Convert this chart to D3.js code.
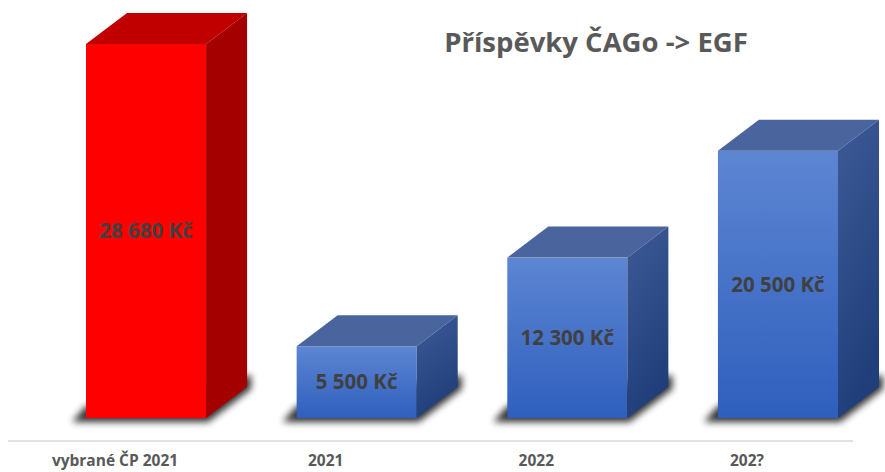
<!DOCTYPE html>
<html>
<head>
<meta charset="utf-8">
<script src="https://cdn.jsdelivr.net/npm/d3@7"></script>
<style>
  body { margin: 0; background: #fff; }
  svg { display: block; font-family: "Open Sans", "Noto Sans", sans-serif; }
</style>
</head>
<body>
<div id="chart"></div>
<script>
/* CONSTANTS AND GLOBALS */
const width = 885,
  height = 472,
  depth = { dx: 41, dy: 31 };

// data
const categories = ["vybrané ČP 2021", "2021", "2022", "202?"];
const values = [28680, 5500, 12300, 20500];
const valueLabels = ["28 680 Kč", "5 500 Kč", "12 300 Kč", "20 500 Kč"];
const title = "Příspěvky ČAGo -> EGF";

const data = categories.map((c, i) => ({ cat: c, value: values[i], label: valueLabels[i], red: i === 0 }));

// SCALES
const xScale = d3.scaleBand()
  .domain(categories)
  .range([86, 838])
  .paddingInner(0.43)
  .paddingOuter(0);

const yScale = d3.scaleLinear()
  .domain([0, 28680])
  .range([418, 44]);

// SVG
const svg = d3.select("#chart")
  .append("svg")
  .attr("width", width)
  .attr("height", height);

const defs = svg.append("defs");

defs.append("filter")
  .attr("id", "blur")
  .attr("x", "-20%").attr("y", "-50%")
  .attr("width", "140%").attr("height", "200%")
  .append("feGaussianBlur")
  .attr("stdDeviation", 3.5);

const frontGrad = defs.append("linearGradient")
  .attr("id", "blueFront")
  .attr("x1", 0).attr("y1", 0).attr("x2", 0).attr("y2", 1);
frontGrad.append("stop").attr("offset", "0%").attr("stop-color", "#5d86d2");
frontGrad.append("stop").attr("offset", "100%").attr("stop-color", "#2f5fbd");

const sideGrad = defs.append("linearGradient")
  .attr("id", "blueSide")
  .attr("x1", 0).attr("y1", 0).attr("x2", 0.3).attr("y2", 1);
sideGrad.append("stop").attr("offset", "0%").attr("stop-color", "#3e5b97");
sideGrad.append("stop").attr("offset", "100%").attr("stop-color", "#1f3e7a");

// AXIS LINE
svg.append("line")
  .attr("x1", 8).attr("x2", 853)
  .attr("y1", 441).attr("y2", 441)
  .attr("stroke", "#d9d9d9")
  .attr("stroke-width", 1.5);

// category labels
svg.selectAll("text.cat")
  .data(data)
  .join("text")
  .attr("class", "cat")
  .attr("x", d => xScale(d.cat) + xScale.bandwidth() / 2 - 31)
  .attr("y", 466)
  .attr("text-anchor", "middle")
  .attr("font-size", 15.5)
  .attr("font-weight", "bold")
  .attr("fill", "#595959")
  .text(d => d.cat);

// BARS
const base = yScale(0);
const w = xScale.bandwidth();

const bars = svg.selectAll("g.bar")
  .data(data)
  .join("g")
  .attr("class", "bar");

// shadow
bars.append("path")
  .attr("d", d => {
    const x = xScale(d.cat);
    return `M${x - 14},${base + 4} L${x + w + 2},${base + 4} L${x + w + depth.dx + 4},${base - depth.dy + 2}
      L${x + w + depth.dx + 4},${base - depth.dy - 12} L${x},${base - 12} Z`;
  })
  .attr("fill", "#000")
  .attr("opacity", 0.8)
  .attr("filter", "url(#blur)");

// front face
bars.append("rect")
  .attr("x", d => xScale(d.cat))
  .attr("y", d => yScale(d.value))
  .attr("width", w)
  .attr("height", d => base - yScale(d.value))
  .attr("fill", d => d.red ? "#ff0000" : "url(#blueFront)");

// top face
bars.append("path")
  .attr("d", d => {
    const x = xScale(d.cat), y = yScale(d.value);
    return `M${x},${y} L${x + depth.dx},${y - depth.dy} L${x + w + depth.dx},${y - depth.dy} L${x + w},${y} Z`;
  })
  .attr("fill", d => d.red ? "#c00000" : "#4a659e");

// side face
bars.append("path")
  .attr("d", d => {
    const x = xScale(d.cat) + w, y = yScale(d.value);
    return `M${x},${y} L${x + depth.dx},${y - depth.dy} L${x + depth.dx},${base - depth.dy} L${x},${base} Z`;
  })
  .attr("fill", d => d.red ? "#a50000" : "url(#blueSide)");

// value labels
bars.append("text")
  .attr("x", d => xScale(d.cat) + w / 2)
  .attr("y", d => (yScale(d.value) + base) / 2)
  .attr("dy", "0.35em")
  .attr("text-anchor", "middle")
  .attr("font-size", 20.5)
  .attr("font-weight", "bold")
  .attr("fill", "#404040")
  .text(d => d.label);

// TITLE
svg.append("text")
  .attr("x", 596)
  .attr("y", 52)
  .attr("text-anchor", "middle")
  .attr("font-size", 27.5)
  .attr("font-weight", "bold")
  .attr("fill", "#595959")
  .text(title);
</script>
</body>
</html>
